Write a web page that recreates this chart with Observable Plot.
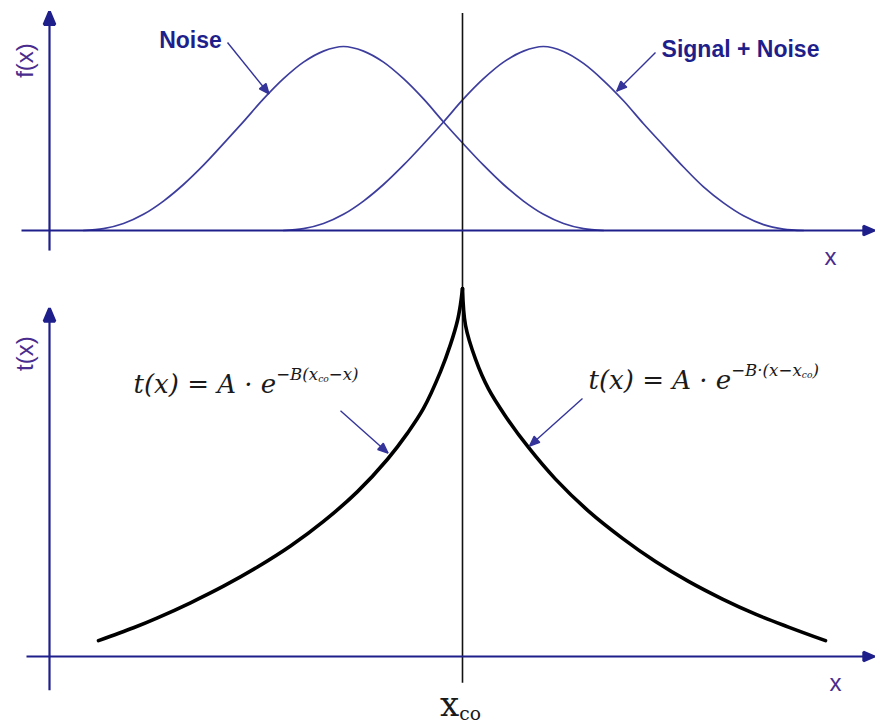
<!DOCTYPE html>
<html>
<head>
<meta charset="utf-8">
<script src="https://cdn.jsdelivr.net/npm/d3@7"></script>
<script src="https://cdn.jsdelivr.net/npm/@observablehq/plot@0.6"></script>
<style>
  html, body { margin: 0; padding: 0; background: #fff; }
  #chart svg { display: block; }
</style>
</head>
<body>
<div id="chart"></div>
<script>
// ---------- Top panel: densities f(x) of noise and of signal + noise ----------
const noiseX  = [0.34, 0.54, 0.74, 0.94, 1.14, 1.34, 1.54, 1.74, 1.94, 2.14, 2.34, 2.54, 2.74, 2.94,
                 3.14, 3.34, 3.54, 3.74, 3.94, 4.14, 4.34, 4.54, 4.74, 4.94, 5.14, 5.34, 5.54];
const noiseF  = [0.000, 0.010, 0.038, 0.088, 0.160, 0.250, 0.355, 0.472, 0.592, 0.715, 0.825, 0.915, 0.975, 1.000,
                 0.975, 0.915, 0.825, 0.715, 0.590, 0.470, 0.355, 0.250, 0.160, 0.088, 0.038, 0.010, 0.000];
const signalX = [2.34, 2.54, 2.74, 2.94, 3.14, 3.34, 3.54, 3.74, 3.94, 4.14, 4.34, 4.54, 4.74, 4.94,
                 5.14, 5.34, 5.54, 5.74, 5.94, 6.14, 6.34, 6.54, 6.74, 6.94, 7.14, 7.34, 7.54];
const signalF = [0.000, 0.010, 0.038, 0.088, 0.160, 0.250, 0.355, 0.470, 0.590, 0.715, 0.825, 0.915, 0.975, 1.000,
                 0.973, 0.908, 0.815, 0.705, 0.580, 0.462, 0.345, 0.237, 0.150, 0.080, 0.032, 0.008, 0.000];

// ---------- Bottom panel: threshold t(x), peaked at the crossover x_co ----------
const xCo = 4.13;
const tLeftX  = [0.49, 0.84, 1.08, 1.41, 1.74, 2.08, 2.41, 2.74, 3.08, 3.38, 3.58, 3.74, 3.91, 4.01, 4.08, 4.11, 4.13];
const tLeftT  = [0.043, 0.078, 0.105, 0.146, 0.191, 0.243, 0.300, 0.367, 0.448, 0.536, 0.607, 0.674, 0.774, 0.848, 0.913, 0.957, 1.000];
const tRightX = [4.13, 4.16, 4.26, 4.39, 4.56, 4.79, 5.06, 5.39, 5.73, 6.06, 6.39, 6.73, 7.06, 7.39, 7.76];
const tRightT = [1.000, 0.900, 0.808, 0.727, 0.653, 0.568, 0.482, 0.395, 0.321, 0.258, 0.204, 0.156, 0.115, 0.080, 0.043];

// ---------- Labels ----------
const noiseLabel   = "Noise";
const signalLabel  = "Signal + Noise";
const fAxisLabel   = "f(x)";
const tAxisLabel   = "t(x)";
const xAxisLabel   = "x";
const leftFormula  = "t(x) = A · e^{−B(x_{co}−x)}";
const rightFormula = "t(x) = A · e^{−B·(x−x_{co})}";
const xCoLabel     = "x_{co}";

// ---------- Styling ----------
const AXIS = "#1f1f8c";
const CURVE = "#3d3d9e";
const POINTER = "#34349a";
const LABEL = "#4a2c8e";
const INK = "#1a1a1a";
const SANS = "Liberation Sans, Arial, sans-serif";
const SERIF = "DejaVu Serif, serif";

const zip = (xs, ys, k) => xs.map((x, i) => ({x, [k]: ys[i]}));

// solid triangular arrowhead, oriented along the path
function solidHead(size) {
  return (color, context) => {
    const doc = (context && context.document) || document;
    const ns = "http://www.w3.org/2000/svg";
    const m = doc.createElementNS(ns, "marker");
    m.setAttribute("viewBox", "-10 -5 10 10");
    m.setAttribute("markerUnits", "userSpaceOnUse");
    m.setAttribute("markerWidth", size);
    m.setAttribute("markerHeight", size);
    m.setAttribute("refX", 0);
    m.setAttribute("refY", 0);
    m.setAttribute("orient", "auto");
    m.setAttribute("overflow", "visible");
    const p = doc.createElementNS(ns, "path");
    p.setAttribute("d", "M-10,-4.2L0,0L-10,4.2Z");
    p.setAttribute("fill", color);
    m.appendChild(p);
    return m;
  };
}

// split "a^{b_{c}}" into runs with size and baseline shift
function splitScripts(str, shift, size, out) {
  let i = 0, buf = "";
  while (i < str.length) {
    const c = str[i];
    if ((c === "^" || c === "_") && str[i + 1] === "{") {
      if (buf) { out.push({text: buf, shift, size}); buf = ""; }
      let depth = 0, j = i + 1;
      for (; j < str.length; j++) {
        if (str[j] === "{") depth++;
        else if (str[j] === "}" && --depth === 0) break;
      }
      const inner = str.slice(i + 2, j);
      if (c === "^") splitScripts(inner, shift + size * 0.47, size * 0.64, out);
      else splitScripts(inner, shift - size * 0.1, size * 0.55, out);
      i = j + 1;
    } else { buf += c; i++; }
  }
  if (buf) out.push({text: buf, shift, size});
  return out;
}

function applyScripts(svg) {
  d3.select(svg).selectAll("text").each(function () {
    const raw = this.textContent;
    if (!/[\^_]\{/.test(raw)) return;
    const base = parseFloat(getComputedStyle(this).fontSize) || 16;
    const runs = splitScripts(raw, 0, base, []);
    this.textContent = "";
    let shift = 0;
    for (const r of runs) {
      const t = document.createElementNS("http://www.w3.org/2000/svg", "tspan");
      t.setAttribute("font-size", r.size.toFixed(2));
      t.setAttribute("dy", (shift - r.shift).toFixed(2));
      t.textContent = r.text;
      this.appendChild(t);
      shift = r.shift;
    }
  });
}

const W = 876;
const xDomain = [-0.49, 8.27];

// ---------- top panel ----------
const topPlot = Plot.plot({
  width: W, height: 280,
  marginTop: 0, marginRight: 0, marginBottom: 0, marginLeft: 0,
  x: {domain: xDomain, axis: null},
  y: {domain: [-0.2717, 1.25], axis: null},
  marks: [
    Plot.line(zip(noiseX, noiseF, "f"), {x: "x", y: "f", curve: "catmull-rom", stroke: CURVE, strokeWidth: 1.7}),
    Plot.line(zip(signalX, signalF, "f"), {x: "x", y: "f", curve: "catmull-rom", stroke: CURVE, strokeWidth: 1.7}),
    Plot.ruleX([{x: xCo, y1: 1.18, y2: -0.2717}], {x: "x", y1: "y1", y2: "y2", stroke: "#111", strokeWidth: 1.6}),
    // axes with arrowheads
    Plot.link([{x1: -0.28, y1: 0, x2: 8.25, y2: 0}],
      {x1: "x1", y1: "y1", x2: "x2", y2: "y2", stroke: AXIS, strokeWidth: 2.2, strokeLinecap: "butt", markerEnd: solidHead(11)}),
    Plot.link([{x1: 0, y1: -0.109, x2: 0, y2: 1.19}],
      {x1: "x1", y1: "y1", x2: "x2", y2: "y2", stroke: AXIS, strokeWidth: 2.2, strokeLinecap: "butt", markerEnd: solidHead(13)}),
    // pointers to the curves
    Plot.link([{x1: 1.78, y1: 1.022, x2: 2.195, y2: 0.742}, {x1: 6.06, y1: 0.967, x2: 5.672, y2: 0.757}],
      {x1: "x1", y1: "y1", x2: "x2", y2: "y2", stroke: POINTER, strokeWidth: 1.4, strokeLinecap: "butt", markerEnd: solidHead(10)}),
    Plot.text([{x: 1.41, y: 1.033, s: noiseLabel}, {x: 6.91, y: 0.984, s: signalLabel}],
      {x: "x", y: "y", text: "s", fill: AXIS, fontSize: 23, fontWeight: "bold", fontFamily: SANS}),
    Plot.text([{x: -0.24, y: 0.924, s: fAxisLabel}],
      {x: "x", y: "y", text: "s", fill: LABEL, fontSize: 24, rotate: -90, fontFamily: SANS}),
    Plot.text([{x: 7.81, y: -0.147, s: xAxisLabel}],
      {x: "x", y: "y", text: "s", fill: LABEL, fontSize: 24, fontFamily: SANS})
  ]
});

// ---------- bottom panel ----------
const bottomPlot = Plot.plot({
  width: W, height: 446,
  marginTop: 0, marginRight: 0, marginBottom: 0, marginLeft: 0,
  x: {domain: xDomain, axis: null},
  y: {domain: [-0.1902, 1.0217], axis: null},
  marks: [
    Plot.ruleX([{x: xCo, y1: 1.0217, y2: -0.073}], {x: "x", y1: "y1", y2: "y2", stroke: "#111", strokeWidth: 1.6}),
    Plot.line(zip(tLeftX, tLeftT, "t"), {x: "x", y: "t", curve: "catmull-rom", stroke: "#000", strokeWidth: 3.6}),
    Plot.line(zip(tRightX, tRightT, "t"), {x: "x", y: "t", curve: "catmull-rom", stroke: "#000", strokeWidth: 3.6}),
    Plot.link([{x1: -0.23, y1: 0, x2: 8.25, y2: 0}],
      {x1: "x1", y1: "y1", x2: "x2", y2: "y2", stroke: AXIS, strokeWidth: 2.2, strokeLinecap: "butt", markerEnd: solidHead(11)}),
    Plot.link([{x1: 0, y1: -0.092, x2: 0, y2: 0.946}],
      {x1: "x1", y1: "y1", x2: "x2", y2: "y2", stroke: AXIS, strokeWidth: 2.2, strokeLinecap: "butt", markerEnd: solidHead(13)}),
    Plot.link([{x1: 2.91, y1: 0.668, x2: 3.385, y2: 0.553}, {x1: 5.33, y1: 0.701, x2: 4.80, y2: 0.572}],
      {x1: "x1", y1: "y1", x2: "x2", y2: "y2", stroke: POINTER, strokeWidth: 1.4, strokeLinecap: "butt", markerEnd: solidHead(10)}),
    Plot.text([{x: 0.84, y: 0.717, s: leftFormula}, {x: 5.39, y: 0.728, s: rightFormula}],
      {x: "x", y: "y", text: "s", fill: INK, fontSize: 26, fontStyle: "italic", fontFamily: SERIF,
       textAnchor: "start", lineAnchor: "bottom"}),
    Plot.text([{x: -0.24, y: 0.823, s: tAxisLabel}],
      {x: "x", y: "y", text: "s", fill: LABEL, fontSize: 24, rotate: -90, fontFamily: SANS}),
    Plot.text([{x: 7.86, y: -0.073, s: xAxisLabel}],
      {x: "x", y: "y", text: "s", fill: LABEL, fontSize: 24, fontFamily: SANS}),
    Plot.text([{x: xCo - 0.02, y: -0.162, s: xCoLabel}],
      {x: "x", y: "y", text: "s", fill: INK, fontSize: 34, fontFamily: SERIF, lineAnchor: "bottom"})
  ]
});

const host = document.getElementById("chart");
host.appendChild(topPlot);
host.appendChild(bottomPlot);
applyScripts(topPlot);
applyScripts(bottomPlot);
</script>
</body>
</html>
